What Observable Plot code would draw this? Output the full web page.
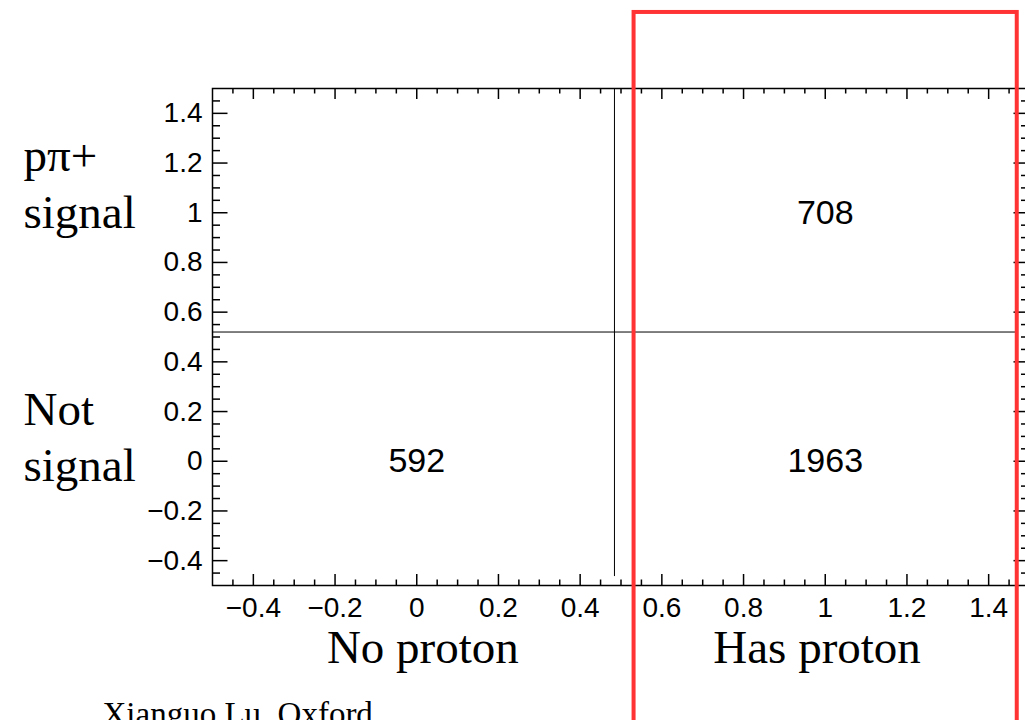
<!DOCTYPE html>
<html>
<head>
<meta charset="utf-8">
<script src="https://cdn.jsdelivr.net/npm/d3@7"></script>
<script src="https://cdn.jsdelivr.net/npm/@observablehq/plot@0.6"></script>
<style>
html, body { margin: 0; padding: 0; background: #fff; overflow: hidden; width: 1025px; height: 720px; }
#chart svg { max-width: none !important; display: block; }
</style>
</head>
<body>
<div id="chart"></div>
<script>
// ---- data ----
const xCategories = ["No proton", "Has proton"];
const xCategoryPos = [0.015, 0.98];
const yCategories = ["pπ+\nsignal", "Not\nsignal"];
const yCategoryPos = [0.94, -0.08];
const cellX = [0, 1, 1];
const cellY = [0, 0, 1];
const cellCounts = [592, 1963, 708];
const majorTicks = [-0.4, -0.2, 0, 0.2, 0.4, 0.6, 0.8, 1, 1.2, 1.4];
const minorTicks = [-0.45, -0.35, -0.3, -0.25, -0.15, -0.1, -0.05, 0.05, 0.1, 0.15, 0.25, 0.3, 0.35, 0.45,
  0.5, 0.55, 0.65, 0.7, 0.75, 0.85, 0.9, 0.95, 1.05, 1.1, 1.15, 1.25, 1.3, 1.35, 1.45];
const hCut = [0.52];
const hCutExtent = [-0.5, 1.468];
const vCut = [0.484];
const vCutExtent = [-0.464, 1.5];
const highlight = [{x1: 0.532, x2: 1.47, y1: -1.2, y2: 1.806}];
const credit = ["Xianguo Lu, Oxford"];

// ---- layout ----
const W = 1040, H = 720;
const mL = 212, mR = 11, mT = 88, mB = 135;
const FW = W - mL - mR, FH = H - mT - mB;
const sans = "'Liberation Sans', Arial, Helvetica, sans-serif";
const serif = "'Liberation Serif', 'Times New Roman', serif";
const fmt = d => (d < 0 ? "\u2212" : "") + String(+Math.abs(d).toFixed(2));

const cells = cellCounts.map((n, i) => ({x: cellX[i], y: cellY[i], n}));

const chart = Plot.plot({
  width: W, height: H,
  marginLeft: mL, marginRight: mR, marginTop: mT, marginBottom: mB,
  x: {domain: [-0.5, 1.5]},
  y: {domain: [-0.5, 1.5]},
  style: {fontFamily: sans, fontSize: "28px", color: "black", background: "white", maxWidth: "none"},
  marks: [
    Plot.frame({stroke: "black", strokeWidth: 1.5}),
    // inward ticks on all four sides
    Plot.tickX(majorTicks, {x: d => d, insetTop: FH - 11, strokeWidth: 1.5}),
    Plot.tickX(majorTicks, {x: d => d, insetBottom: FH - 11, strokeWidth: 1.5}),
    Plot.tickX(minorTicks, {x: d => d, insetTop: FH - 5.5, strokeWidth: 1.5}),
    Plot.tickX(minorTicks, {x: d => d, insetBottom: FH - 5.5, strokeWidth: 1.5}),
    Plot.tickY(majorTicks, {y: d => d, insetRight: FW - 15.5, strokeWidth: 1.5}),
    Plot.tickY(majorTicks, {y: d => d, insetLeft: FW - 15.5, strokeWidth: 1.5}),
    Plot.tickY(minorTicks, {y: d => d, insetRight: FW - 8, strokeWidth: 1.5}),
    Plot.tickY(minorTicks, {y: d => d, insetLeft: FW - 8, strokeWidth: 1.5}),
    Plot.axisX(majorTicks, {anchor: "bottom", tickSize: 0, tickPadding: 12, label: null, fontSize: 28, tickFormat: fmt}),
    Plot.axisY(majorTicks, {anchor: "left", tickSize: 0, tickPadding: 10, label: null, fontSize: 28, tickFormat: fmt}),
    // cut lines
    Plot.ruleY(hCut, {y: d => d, x1: hCutExtent[0], x2: hCutExtent[1], stroke: "black", strokeWidth: 1}),
    Plot.ruleX(vCut, {x: d => d, y1: vCutExtent[0], y2: vCutExtent[1], stroke: "black", strokeWidth: 1}),
    // bin contents
    Plot.text(cells, {x: "x", y: "y", text: d => String(d.n), fontSize: 34, fontFamily: sans, fill: "black"}),
    // category labels
    Plot.text(xCategories, {x: (d, i) => xCategoryPos[i], text: d => d, frameAnchor: "bottom", dy: 77,
      lineAnchor: "bottom", fontFamily: serif, fontSize: 47, fill: "black"}),
    Plot.text(yCategories, {y: (d, i) => yCategoryPos[i], text: d => d, frameAnchor: "left", dx: -189,
      textAnchor: "start", lineAnchor: "bottom", lineHeight: 1.2, fontFamily: serif, fontSize: 47, fill: "black"}),
    Plot.text(credit, {text: d => d, frameAnchor: "bottom-left", dx: -110, dy: 139,
      textAnchor: "start", lineAnchor: "bottom", fontFamily: serif, fontSize: 33, fill: "black"}),
    // highlight box
    Plot.rect(highlight, {x1: "x1", x2: "x2", y1: "y1", y2: "y2", fill: "none", stroke: "#ff3333", strokeWidth: 4, clip: false})
  ]
});
document.getElementById("chart").appendChild(chart);
</script>
</body>
</html>
